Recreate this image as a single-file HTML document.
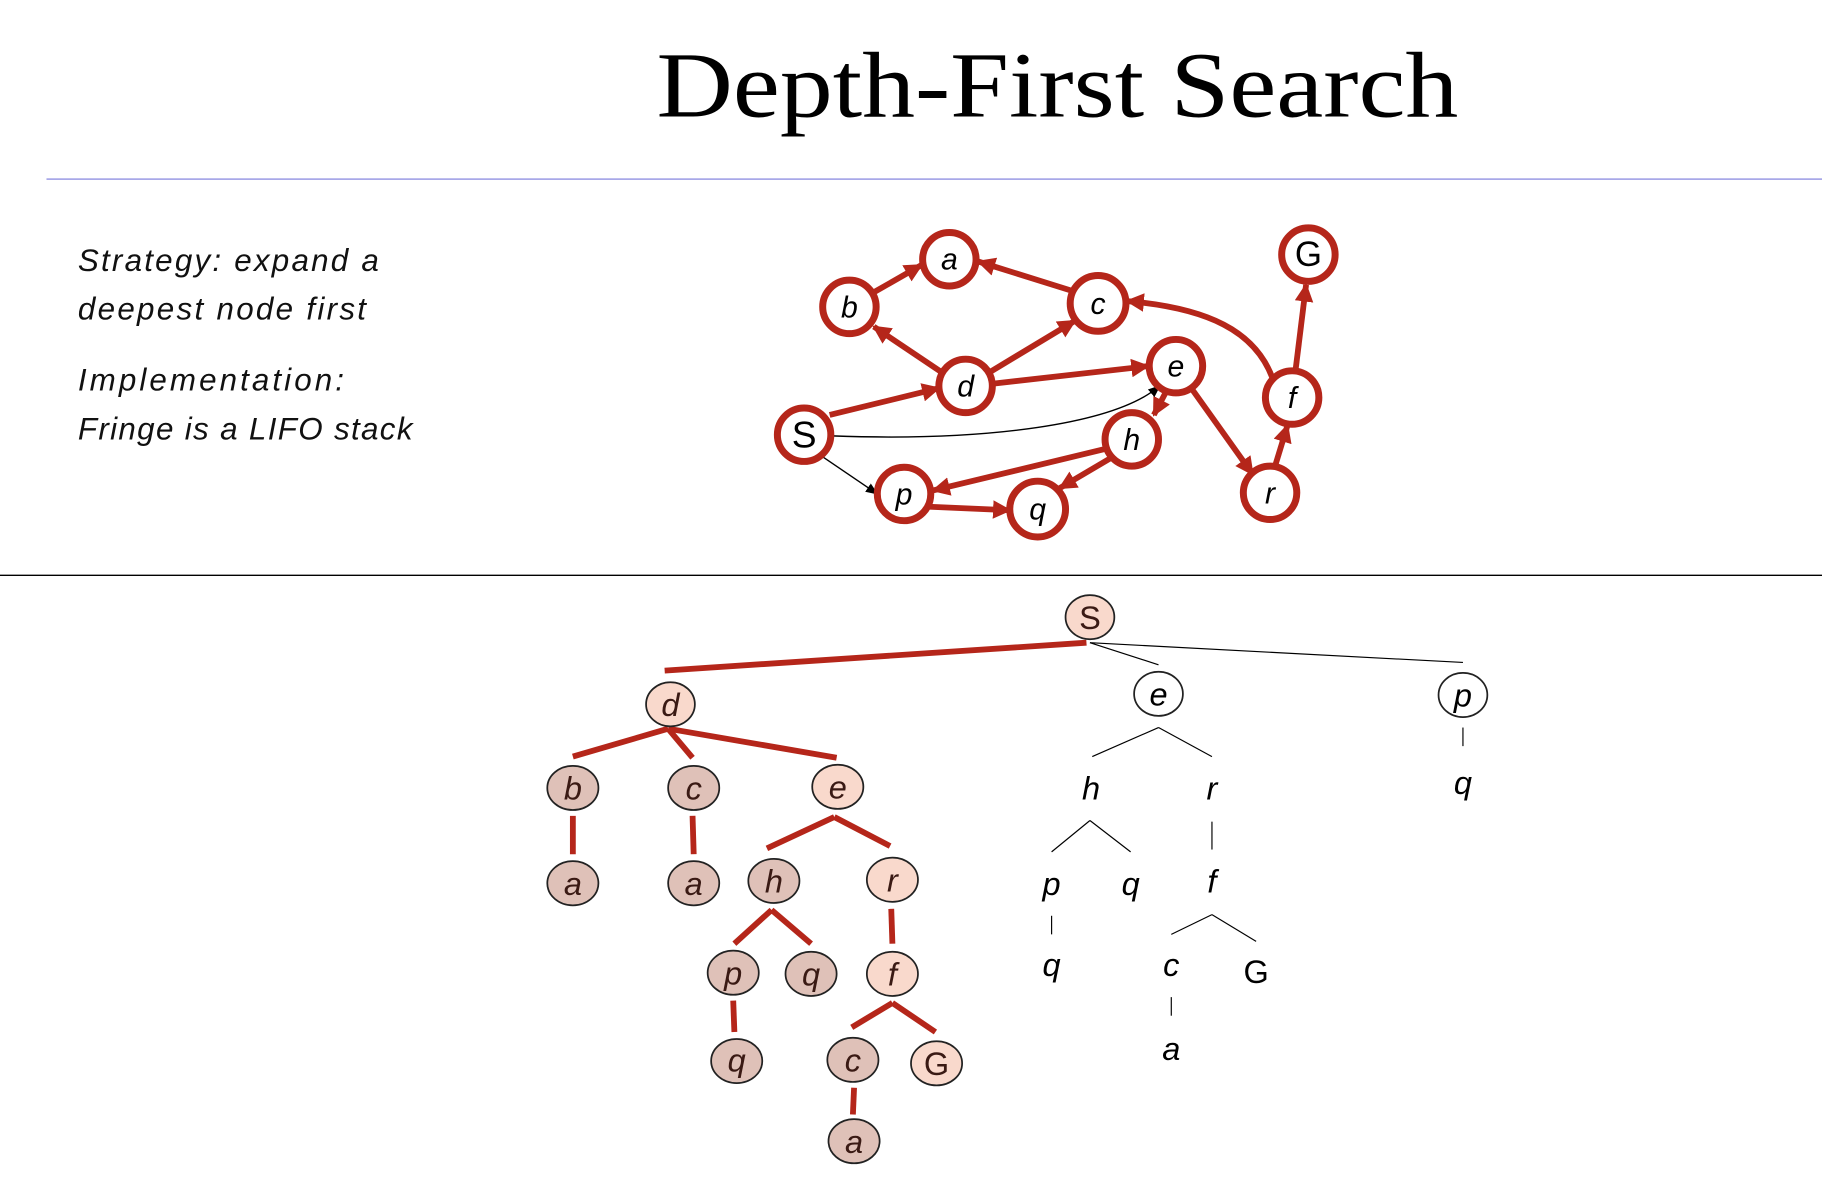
<!DOCTYPE html>
<html><head><style>html,body{margin:0;padding:0;background:#fff}svg{display:block}</style></head><body>
<svg width="1822" height="1182" viewBox="0 0 1568 1017" xmlns="http://www.w3.org/2000/svg">
<defs>
<marker id="ar" viewBox="0 0 10 10" refX="9" refY="5" markerWidth="3.2" markerHeight="3.2" orient="auto"><path d="M0,0L10,5L0,10z" fill="#b5261a"/></marker>
<marker id="ak" viewBox="0 0 10 10" refX="9" refY="5" markerWidth="9" markerHeight="9" orient="auto"><path d="M0,1L10,5L0,9z" fill="#000"/></marker>
</defs>
<text x="565" y="100" textLength="690" lengthAdjust="spacingAndGlyphs" font-family="Liberation Serif,serif" font-size="80">Depth-First Search</text>
<line x1="40" y1="154" x2="1568" y2="154" stroke="#a8a8e8" stroke-width="1.5"/>
<line x1="0" y1="495" x2="1568" y2="495" stroke="#000" stroke-width="1.2"/>
<g font-family="Liberation Sans,sans-serif" font-style="italic" font-size="27" fill="#111">
<text x="67" y="233" textLength="259">Strategy: expand a</text>
<text x="67" y="275" textLength="248">deepest node first</text>
<text x="67" y="336" textLength="229">Implementation:</text>
<text x="67" y="378" textLength="288">Fringe is a LIFO stack</text>
</g>
<g stroke="#b5261a" stroke-width="5" fill="none" marker-end="url(#ar)">
<line x1="751" y1="252" x2="793" y2="228"/>
<line x1="922" y1="250" x2="842" y2="225"/>
<line x1="810" y1="320" x2="752" y2="281"/>
<line x1="852" y1="320" x2="925" y2="276"/>
<line x1="714" y1="357" x2="808" y2="334"/>
<line x1="855" y1="330" x2="988" y2="315"/>
<line x1="1003" y1="338" x2="993" y2="357"/>
<line x1="952" y1="386" x2="803" y2="422"/>
<line x1="956" y1="394" x2="912" y2="420"/>
<line x1="800" y1="436" x2="869" y2="439"/>
<line x1="1026" y1="335" x2="1078" y2="408"/>
<line x1="1097" y1="402" x2="1108" y2="366"/>
<line x1="1115" y1="318" x2="1124" y2="245"/>
<path d="M1095,325 C1080,285 1040,265 970,259"/>
</g>
<g stroke="#000" stroke-width="1.2" fill="none" marker-end="url(#ak)">
<path d="M716,375 C850,380 960,365 998,332"/>
<line x1="708" y1="393" x2="755" y2="425"/>
</g>
<g stroke="#b5261a" stroke-width="6" fill="#fff">
<circle cx="817" cy="223" r="23"/><circle cx="731" cy="264" r="23"/><circle cx="945" cy="261" r="24"/>
<circle cx="1126" cy="219" r="23"/><circle cx="831" cy="332" r="23"/><circle cx="1012" cy="315" r="23"/>
<circle cx="1112" cy="342" r="23"/><circle cx="692" cy="374" r="23"/><circle cx="974" cy="378" r="23"/>
<circle cx="778" cy="425" r="23"/><circle cx="893" cy="438" r="24"/><circle cx="1093" cy="424" r="23"/>
</g>
<g font-family="Liberation Sans,sans-serif" font-size="26" text-anchor="middle" fill="#000">
<g font-style="italic">
<text x="817" y="232">a</text><text x="731" y="273">b</text><text x="945" y="270">c</text>
<text x="831" y="341">d</text><text x="1012" y="324">e</text><text x="1112" y="351">f</text>
<text x="974" y="387">h</text><text x="778" y="434">p</text><text x="893" y="447">q</text><text x="1093" y="433">r</text>
</g>
<text x="1126" y="229" font-size="30">G</text><text x="692" y="385" font-size="32">S</text>
</g>
<g stroke="#000" stroke-width="1" fill="none">
<line x1="938" y1="553" x2="997" y2="572"/><line x1="938" y1="553" x2="1259" y2="570"/>
<line x1="997" y1="626" x2="940" y2="651"/><line x1="997" y1="626" x2="1043" y2="651"/>
<line x1="938" y1="706" x2="905" y2="733"/><line x1="938" y1="706" x2="973" y2="733"/>
<line x1="1043" y1="707" x2="1043" y2="731"/>
<line x1="1043" y1="787" x2="1008" y2="804"/><line x1="1043" y1="787" x2="1081" y2="810"/>
<line x1="905" y1="788" x2="905" y2="804"/><line x1="1008" y1="858" x2="1008" y2="874"/>
<line x1="1259" y1="626" x2="1259" y2="642"/>
</g>
<g stroke="#b5261a" stroke-width="5" fill="none">
<line x1="935" y1="553" x2="572" y2="577"/>
<line x1="575" y1="627" x2="493" y2="651"/><line x1="575" y1="627" x2="596" y2="652"/><line x1="575" y1="627" x2="720" y2="652"/>
<line x1="718" y1="703" x2="660" y2="730"/><line x1="718" y1="703" x2="766" y2="728"/>
<line x1="664" y1="783" x2="632" y2="812"/><line x1="664" y1="783" x2="698" y2="812"/>
<line x1="768" y1="863" x2="733" y2="884"/><line x1="768" y1="863" x2="805" y2="888"/>
<line x1="493" y1="702" x2="493" y2="735"/><line x1="596" y1="702" x2="597" y2="735"/>
<line x1="767" y1="782" x2="768" y2="812"/><line x1="631" y1="861" x2="632" y2="888"/>
<line x1="735" y1="936" x2="734" y2="959"/>
</g>
<g stroke="#222" stroke-width="1.5">
<g fill="#f9d9cc">
<ellipse cx="938" cy="531" rx="21" ry="19"/><ellipse cx="577" cy="606" rx="21" ry="19"/>
<ellipse cx="721" cy="677" rx="22" ry="19"/><ellipse cx="768" cy="757" rx="22" ry="19"/>
<ellipse cx="768" cy="838" rx="22" ry="19"/><ellipse cx="806" cy="915" rx="22" ry="19"/>
</g>
<g fill="#dfc1b8">
<ellipse cx="493" cy="678" rx="22" ry="19"/><ellipse cx="597" cy="678" rx="22" ry="19"/>
<ellipse cx="493" cy="760" rx="22" ry="19"/><ellipse cx="597" cy="760" rx="22" ry="19"/>
<ellipse cx="666" cy="758" rx="22" ry="19"/><ellipse cx="631" cy="837" rx="22" ry="19"/>
<ellipse cx="698" cy="838" rx="22" ry="19"/><ellipse cx="634" cy="913" rx="22" ry="19"/>
<ellipse cx="734" cy="912" rx="22" ry="19"/><ellipse cx="735" cy="982" rx="22" ry="19"/>
</g>
<g fill="#fff">
<ellipse cx="997" cy="597" rx="21" ry="19"/><ellipse cx="1259" cy="598" rx="21" ry="19"/>
</g>
</g>
<g font-family="Liberation Sans,sans-serif" font-size="28" text-anchor="middle" fill="#3a1a14" font-style="italic">
<text x="577" y="616">d</text><text x="721" y="687">e</text><text x="768" y="767">r</text><text x="768" y="848">f</text>
<text x="493" y="688">b</text><text x="597" y="688">c</text><text x="493" y="770">a</text><text x="597" y="770">a</text>
<text x="666" y="768">h</text><text x="631" y="847">p</text><text x="698" y="848">q</text><text x="634" y="922">q</text>
<text x="734" y="922">c</text><text x="735" y="992">a</text>
</g>
<g font-family="Liberation Sans,sans-serif" font-size="28" text-anchor="middle" fill="#3a1a14">
<text x="938" y="541">S</text><text x="806" y="925">G</text>
</g>
<g font-family="Liberation Sans,sans-serif" font-size="28" text-anchor="middle" fill="#000" font-style="italic">
<text x="997" y="607">e</text><text x="1259" y="608">p</text>
<text x="939" y="688">h</text><text x="1043" y="688">r</text>
<text x="905" y="770">p</text><text x="973" y="770">q</text><text x="1043" y="768">f</text>
<text x="905" y="840">q</text><text x="1008" y="840">c</text><text x="1008" y="912">a</text>
<text x="1259" y="683">q</text>
</g>
<text x="1081" y="846" font-family="Liberation Sans,sans-serif" font-size="28" text-anchor="middle">G</text>
</svg>
</body></html>
